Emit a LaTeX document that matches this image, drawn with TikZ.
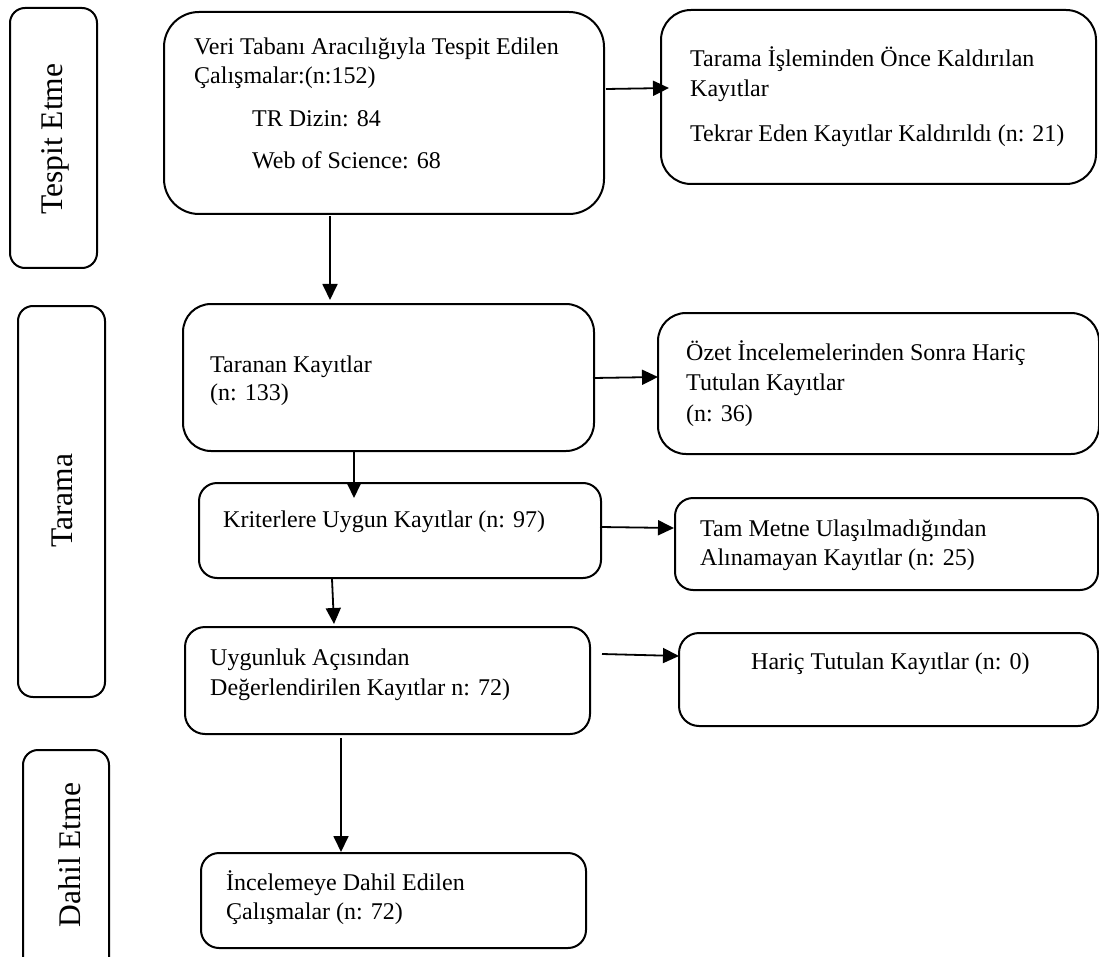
\documentclass[tikz,border=0pt]{standalone}
\usepackage{fontspec}
\setmainfont{Liberation Serif}
\usetikzlibrary{arrows.meta}
\tikzset{
  rbox/.style={draw, line width=2pt, rounded corners=#1, inner sep=0pt, anchor=north west},
  ln/.style={anchor=base west, inner sep=0pt, font=\fontsize{24}{29}\selectfont},
  side/.style={anchor=base, rotate=90, inner sep=0pt, font=\fontsize{31.5}{36}\selectfont},
  arr/.style={line width=1.8pt, -{Triangle[length=16pt,width=15pt]}},
}
\begin{document}
\begin{tikzpicture}[x=1pt,y=-1pt]
\path[use as bounding box, clip] (0,0) rectangle (1099,957);
% boxes
\node[rbox=15pt, minimum width=87pt, minimum height=260pt] (sTes) at (9,7) {};
\node[rbox=35pt, minimum width=440pt, minimum height=202pt] (b1) at (163,11) {};
\node[rbox=30pt, minimum width=435pt, minimum height=174pt] (r1) at (660,9) {};
\node[rbox=15pt, minimum width=87pt, minimum height=391pt] (sTar) at (17,305) {};
\node[rbox=28pt, minimum width=411pt, minimum height=147pt] (tar) at (182,303) {};
\node[rbox=28pt, minimum width=441pt, minimum height=141pt] (ozet) at (657,312) {};
\node[rbox=18pt, minimum width=402pt, minimum height=95pt] (krit) at (198,482) {};
\node[rbox=18pt, minimum width=423pt, minimum height=92pt] (tam) at (674,497) {};
\node[rbox=20pt, minimum width=405pt, minimum height=107pt] (uyg) at (184,626) {};
\node[rbox=20pt, minimum width=419pt, minimum height=93pt] (har) at (678,632) {};
\node[rbox=15pt, minimum width=86pt, minimum height=230pt] (sDah) at (22,749) {};
\node[rbox=18pt, minimum width=385pt, minimum height=95pt] (inc) at (200,852) {};
% side labels
\node[side] (sTesT) at (62,139) {Tespit Etme};
\node[side] (sTarT) at (72,501) {Tarama};
\node[side] (sDahT) at (80,855) {Dahil Etme};
% texts
\node[ln] (b1a) at (194,55) {Veri Tabanı Aracılığıyla Tespit Edilen};
\node[ln] (b1b) at (194,84) {Çalışmalar:(n:152)};
\node[ln] (b1c) at (252,127) {TR Dizin: 84};
\node[ln] (b1d) at (252,169) {Web of Science: 68};
\node[ln] (r1a) at (690,67) {Tarama İşleminden Önce Kaldırılan};
\node[ln] (r1b) at (690,97) {Kayıtlar};
\node[ln] (r1c) at (690,142) {Tekrar Eden Kayıtlar Kaldırıldı (n: 21)};
\node[ln] (tara) at (210,372) {Taranan Kayıtlar};
\node[ln] (tarb) at (210,400) {(n: 133)};
\node[ln] (oza) at (686,360) {Özet İncelemelerinden Sonra Hariç};
\node[ln] (ozb) at (686,390) {Tutulan Kayıtlar};
\node[ln] (ozc) at (686,421) {(n: 36)};
\node[ln] (krita) at (223,527) {Kriterlere Uygun Kayıtlar (n: 97)};
\node[ln] (tama) at (700,536) {Tam Metne Ulaşılmadığından};
\node[ln] (tamb) at (700,565) {Alınamayan Kayıtlar (n: 25)};
\node[ln] (uyga) at (210,665) {Uygunluk Açısından};
\node[ln] (uygb) at (210,695) {Değerlendirilen Kayıtlar n: 72)};
\node[ln] (hara) at (751,669) {Hariç Tutulan Kayıtlar (n: 0)};
\node[ln] (inca) at (226,890) {İncelemeye Dahil Edilen};
\node[ln] (incb) at (226,919) {Çalışmalar (n: 72)};
% arrows
\draw[arr] ([shift={(443,78)}]b1.north west) -- ([shift={(9,79)}]r1.north west);
\draw[arr] ([shift={(167,205)}]b1.north west) -- ([shift={(148,-3)}]tar.north west);
\draw[arr] ([shift={(411,75)}]tar.north west) -- ([shift={(1,65)}]ozet.north west);
\draw[arr] ([shift={(172,149)}]tar.north west) -- ([shift={(156,16)}]krit.north west);
\draw[arr] ([shift={(402,45)}]krit.north west) -- ([shift={(0,31)}]tam.north west);
\draw[arr] ([shift={(134,97)}]krit.north west) -- ([shift={(150,-2)}]uyg.north west);
\draw[arr] ([shift={(418,28)}]uyg.north west) -- ([shift={(1,24)}]har.north west);
\draw[arr] ([shift={(157,112)}]uyg.north west) -- ([shift={(141,0)}]inc.north west);
\end{tikzpicture}
\end{document}
